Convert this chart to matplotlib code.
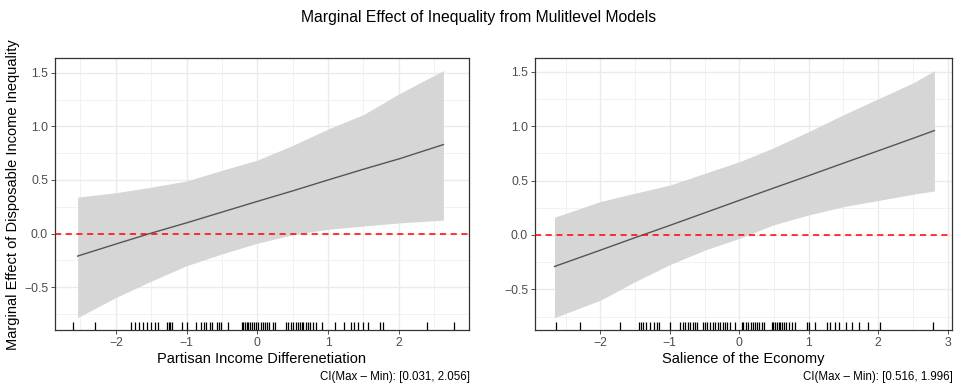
import matplotlib
matplotlib.use('Agg')
import matplotlib.pyplot as plt
from matplotlib.ticker import MultipleLocator

plt.rcParams['font.family'] = ['Liberation Sans', 'DejaVu Sans']

# left panel: partisan income differentiation
x_left = [-2.54, -2.01, -1.52, -1.00, -0.50, 0.00, 0.51, 1.00, 1.50, 2.02, 2.63]
fit_left = [-0.21, -0.10, 0.00, 0.10, 0.20, 0.30, 0.40, 0.50, 0.60, 0.70, 0.83]
hi_left = [0.34, 0.38, 0.43, 0.49, 0.59, 0.685, 0.825, 0.975, 1.11, 1.31, 1.52]
lo_left = [-0.785, -0.60, -0.45, -0.30, -0.19, -0.09, -0.01, 0.04, 0.07, 0.10, 0.125]
rug_left = [-2.60, -2.30, -1.78, -1.73, -1.67, -1.61, -1.56, -1.50, -1.45, -1.40,
            -1.28, -1.25, -1.23, -1.20, -1.06, -1.00, -0.86, -0.80, -0.75, -0.72,
            -0.67, -0.64, -0.57, -0.54, -0.52, -0.42, -0.22, -0.20, -0.17, -0.15,
            -0.13, -0.10, -0.08, -0.05, -0.02, 0.01, 0.05, 0.08, 0.11, 0.13,
            0.16, 0.22, 0.25, 0.41, 0.44, 0.47, 0.51, 0.55, 0.58, 0.60,
            0.63, 0.65, 0.69, 0.72, 0.75, 0.79, 0.83, 0.91, 1.10, 1.22,
            1.33, 1.37, 1.43, 1.50, 1.57, 1.74, 1.77, 2.40, 2.78]

# right panel: salience of the economy
x_right = [-2.66, -2.00, -1.50, -0.99, -0.49, 0.01, 0.49, 1.00, 1.50, 2.03, 2.51, 2.81]
fit_right = [-0.29, -0.14, -0.025, 0.09, 0.205, 0.32, 0.43, 0.545, 0.66, 0.78, 0.89, 0.96]
hi_right = [0.163, 0.307, 0.384, 0.46, 0.568, 0.675, 0.80, 0.95, 1.105, 1.26, 1.40, 1.51]
lo_right = [-0.76, -0.60, -0.43, -0.27, -0.138, -0.03, 0.092, 0.184, 0.26, 0.32, 0.375, 0.405]
rug_right = [-2.64, -2.29, -1.72, -1.45, -1.41, -1.38, -1.34, -1.29, -1.23, -1.18,
             -1.15, -0.99, -0.86, -0.81, -0.78, -0.74, -0.71, -0.67, -0.63, -0.61,
             -0.52, -0.49, -0.46, -0.42, -0.38, -0.35, -0.31, -0.27, -0.24, -0.20,
             -0.17, -0.13, -0.06, 0.04, 0.06, 0.10, 0.13, 0.17, 0.20, 0.23,
             0.26, 0.29, 0.33, 0.35, 0.47, 0.49, 0.52, 0.54, 0.57, 0.59,
             0.61, 0.64, 0.67, 0.71, 0.76, 0.81, 0.97, 1.01, 1.09, 1.26,
             1.31, 1.38, 1.43, 1.53, 1.62, 1.72, 1.86, 2.03, 2.79]

fig = plt.figure(figsize=(9.58, 3.86), dpi=100)
ax1 = fig.add_axes([0.0574, 0.145, 0.432, 0.704])
ax2 = fig.add_axes([0.5585, 0.145, 0.435, 0.704])

panels = [
    (ax1, x_left, fit_left, hi_left, lo_left, rug_left, (-2.86, 2.99), (-0.90, 1.635),
     'Partisan Income Differenetiation', 'CI(Max \u2013 Min): [0.031, 2.056]'),
    (ax2, x_right, fit_right, hi_right, lo_right, rug_right, (-2.94, 3.06), (-0.874, 1.624),
     'Salience of the Economy', 'CI(Max \u2013 Min): [0.516, 1.996]'),
]

for ax, xs, fit, hi, lo, rug, xlim, ylim, xlab, cap in panels:
    ax.fill_between(xs, lo, hi, color='#D6D6D6', lw=0, zorder=2)
    ax.plot(xs, fit, color='#555555', lw=1.0, zorder=3)
    ax.axhline(0, color='#FF0000', lw=1.1, ls=(0, (4, 3)), zorder=4)
    ax.vlines(rug, 0, 0.03, transform=ax.get_xaxis_transform(), color='black', lw=0.9, zorder=4)
    ax.set_xlim(*xlim)
    ax.set_ylim(*ylim)
    ax.xaxis.set_major_locator(MultipleLocator(1))
    ax.xaxis.set_minor_locator(MultipleLocator(0.5))
    ax.yaxis.set_major_locator(MultipleLocator(0.5))
    ax.yaxis.set_minor_locator(MultipleLocator(0.25))
    ax.grid(which='major', color='#EBEBEB', lw=1.0, zorder=0)
    ax.grid(which='minor', color='#F0F0F0', lw=0.6, zorder=0)
    ax.set_axisbelow(True)
    ax.tick_params(which='major', length=3, width=0.6, color='#333333',
                   labelsize=8.8, labelcolor='#4D4D4D', pad=2)
    ax.tick_params(which='minor', length=0)
    for s in ax.spines.values():
        s.set_color('#333333')
        s.set_linewidth(0.9)
    ax.set_xlabel(xlab, fontsize=10.5, labelpad=2)
    ax.text(1.003, -0.15, cap, transform=ax.transAxes, ha='right', va='top', fontsize=8.3)

ax1.set_ylabel('Marginal Effect of Disposable Income Inequality', fontsize=10.5, labelpad=3)
fig.suptitle('Marginal Effect of Inequality from Mulitlevel Models', fontsize=11.3, y=0.975)

fig.savefig('out.png', dpi=100)
